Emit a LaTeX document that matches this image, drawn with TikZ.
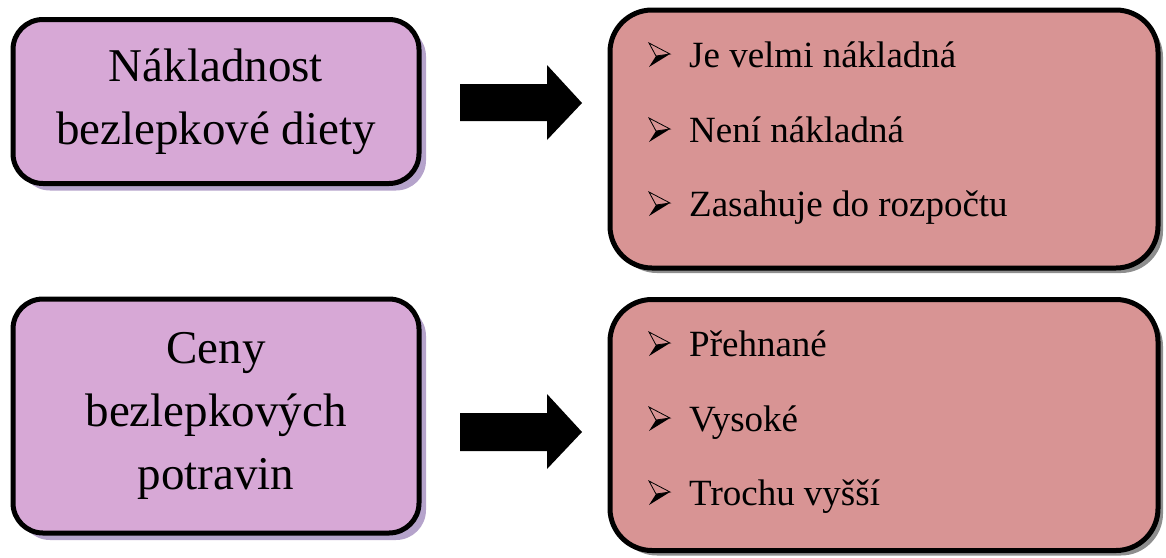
\documentclass[tikz,border=0pt]{standalone}
\usepackage{fontspec}
\setmainfont{Liberation Serif}
\usetikzlibrary{shadows}

\definecolor{topicfill}{HTML}{D7A8D6}
\definecolor{topicshadow}{HTML}{B5A3CB}
\definecolor{itemfill}{HTML}{D89494}
\definecolor{itemshadow}{HTML}{8E8E8E}

\tikzset{
  x=1pt, y=-1pt,
  topic/.style={draw=black, line width=5pt, fill=topicfill, rounded corners=30pt,
    minimum width=406pt, align=center, inner sep=0pt,
    font=\fontsize{47}{63}\selectfont,
    drop shadow={shadow xshift=7pt, shadow yshift=-7pt, fill=topicshadow, opacity=1}},
  itembox/.style={draw=black, line width=5pt, fill=itemfill, rounded corners=42pt,
    minimum width=548pt, inner sep=0pt,
    drop shadow={shadow xshift=5pt, shadow yshift=-5pt, fill=itemshadow, opacity=1}},
  itemtext/.style={anchor=base west, inner sep=0pt, font=\fontsize{37}{44}\selectfont},
  blockarrow/.style={fill=black},
  bul/.pic={
    \fill[black] (7,-11) -- (21,-13) -- (0,0) -- cycle;
    \filldraw[fill=itemfill, draw=black, line width=0.8pt, line join=miter]
      (0,-24) -- (21,-13) -- (7,-11) -- cycle;
  }
}

\begin{document}
\begin{tikzpicture}
\useasboundingbox (0,0) rectangle (1166,557);

% left topic boxes
\node[topic, minimum height=164pt] (cost) at (216,101.5) {Nákladnost\\bezlepkové diety};
\node[topic, minimum height=234pt] (prices) at (216,416) {Ceny\\bezlepkových\\potravin};

% right answer boxes
\node[itembox, minimum height=258pt] (costbox) at (884,139) {};
\node[itembox, minimum height=251pt] (pricebox) at (884,425) {};

% block arrows
\fill[blockarrow] (460,84) -- (547,84) -- (547,65) -- (582,103) -- (547,140)
  -- (547,121) -- (460,121) -- cycle;
\fill[blockarrow] (460,413) -- (547,413) -- (547,394) -- (582,432) -- (547,469)
  -- (547,451) -- (460,451) -- cycle;

% answers about the cost of the diet
\pic at (649,67) {bul};
\node[itemtext] (c1) at (689,67) {Je velmi nákladná};
\pic at (649,142) {bul};
\node[itemtext] (c2) at (689,142) {Není nákladná};
\pic at (649,216) {bul};
\node[itemtext] (c3) at (689,216) {Zasahuje do rozpočtu};

% answers about food prices
\pic at (649,356) {bul};
\node[itemtext] (p1) at (689,356) {Přehnané};
\pic at (649,431) {bul};
\node[itemtext] (p2) at (689,431) {Vysoké};
\pic at (649,505) {bul};
\node[itemtext] (p3) at (689,505) {Trochu vyšší};
\end{tikzpicture}
\end{document}
